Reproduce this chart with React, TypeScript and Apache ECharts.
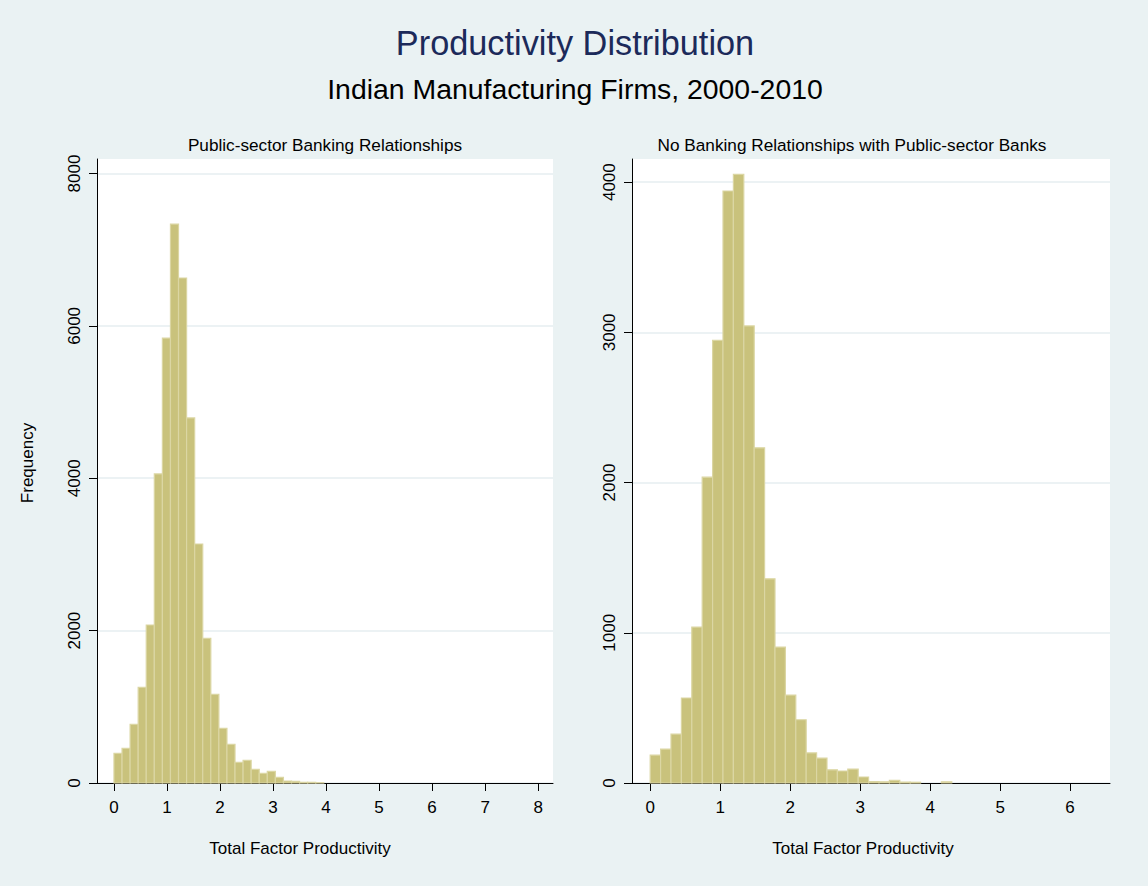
import React, { useEffect, useRef } from "react";
import * as echarts from "echarts";

// Histogram counts (Stata default bins)
const leftBinWidth = 0.1522;
const leftCounts = [
  390, 455, 770, 1256, 2074, 4056, 5840, 7336, 6628, 4791, 3137, 1899, 1164, 718,
  508, 271, 298, 180, 127, 153, 75, 26, 22, 9, 9, 3,
];
const rightBinWidth = 0.1486;
const rightCounts = [
  186, 226, 326, 566, 1038, 2036, 2947, 3941, 4052, 3043, 2231, 1359, 905, 585,
  421, 200, 166, 88, 80, 93, 40, 9, 8, 18, 6, 5, 0, 0, 8,
];
const leftXTicks = [0, 1, 2, 3, 4, 5, 6, 7, 8];
const rightXTicks = [0, 1, 2, 3, 4, 5, 6];
const leftYTicks = [0, 2000, 4000, 6000, 8000];
const rightYTicks = [0, 1000, 2000, 3000, 4000];

const mainTitle = "Productivity Distribution";
const subTitle = "Indian Manufacturing Firms, 2000-2010";
const leftTitle = "Public-sector Banking Relationships";
const rightTitle = "No Banking Relationships with Public-sector Banks";
const xTitle = "Total Factor Productivity";
const yTitle = "Frequency";

const FONT = "'Liberation Sans', Arial, Helvetica, sans-serif";

function toBins(counts: number[], bw: number) {
  return counts.map((c, k) => [k * bw, (k + 1) * bw, c]);
}

export default function App() {
  const ref = useRef<HTMLDivElement>(null);
  useEffect(() => {
    if (!ref.current) return;
    const chart = echarts.init(ref.current, null, { renderer: "svg" });

    const renderItem = (params: any, api: any) => {
      const x0 = api.value(0);
      const x1 = api.value(1);
      const v = api.value(2);
      if (!v) return null;
      const p0 = api.coord([x0, v]);
      const p1 = api.coord([x1, 0]);
      return {
        type: "rect",
        shape: { x: p0[0], y: p0[1], width: p1[0] - p0[0], height: p1[1] - p0[1] },
        style: { fill: "#c9c27c", stroke: "#dbd6a3", lineWidth: 1.2 },
      };
    };

    const xAxisCommon = (ticks: number[], min: number, max: number, gridIndex: number) => ({
      type: "value",
      gridIndex,
      min,
      max,
      axisLine: { show: true, onZero: false, lineStyle: { color: "#000", width: 1 } },
      axisTick: { show: true, length: 8, customValues: ticks, lineStyle: { color: "#000" } },
      axisLabel: {
        customValues: ticks,
        color: "#000",
        fontSize: 17,
        fontFamily: FONT,
        margin: 16,
        formatter: (v: number) => String(v),
      },
      splitLine: { show: false },
    });

    const yAxisCommon = (ticks: number[], max: number, gridIndex: number) => ({
      type: "value",
      gridIndex,
      min: 0,
      max,
      axisLine: { show: true, onZero: false, lineStyle: { color: "#000", width: 1 } },
      axisTick: { show: true, length: 8, customValues: ticks, lineStyle: { color: "#000" } },
      axisLabel: {
        customValues: ticks,
        rotate: 90,
        color: "#000",
        fontSize: 17,
        fontFamily: FONT,
        margin: 14,
        formatter: (v: number) => String(v),
      },
      splitLine: { show: true, lineStyle: { color: "#e6eef0", width: 1.5 } },
    });

    const textStyle = (size: number, color = "#000") => ({
      fill: color,
      fontSize: size,
      fontFamily: FONT,
      textAlign: "center",
      textVerticalAlign: "middle",
    });

    chart.setOption({
      animation: false,
      backgroundColor: "#eaf2f3",
      grid: [
        { left: 97, top: 159, width: 456, height: 624, backgroundColor: "#fff", show: true, borderWidth: 0 },
        { left: 632, top: 159, width: 478, height: 624, backgroundColor: "#fff", show: true, borderWidth: 0 },
      ],
      xAxis: [
        xAxisCommon(leftXTicks, -0.32, 8.28, 0),
        xAxisCommon(rightXTicks, -0.26, 6.57, 1),
      ],
      yAxis: [yAxisCommon(leftYTicks, 8190, 0), yAxisCommon(rightYTicks, 4154, 1)],
      series: [
        {
          type: "custom",
          xAxisIndex: 0,
          yAxisIndex: 0,
          renderItem,
          encode: { x: [0, 1], y: 2 },
          data: toBins(leftCounts, leftBinWidth),
        },
        {
          type: "custom",
          xAxisIndex: 1,
          yAxisIndex: 1,
          renderItem,
          encode: { x: [0, 1], y: 2 },
          data: toBins(rightCounts, rightBinWidth),
        },
      ],
      graphic: [
        { type: "text", x: 575, y: 43, style: { text: mainTitle, ...textStyle(34.3, "#1c2a5a") } },
        { type: "text", x: 575, y: 89, style: { text: subTitle, ...textStyle(28.4) } },
        { type: "text", x: 325, y: 145, style: { text: leftTitle, ...textStyle(17.2) } },
        { type: "text", x: 852, y: 145, style: { text: rightTitle, ...textStyle(17.2) } },
        { type: "text", x: 300, y: 848, style: { text: xTitle, ...textStyle(17) } },
        { type: "text", x: 863, y: 848, style: { text: xTitle, ...textStyle(17) } },
        {
          type: "text",
          x: 27,
          y: 463,
          rotation: Math.PI / 2,
          style: { text: yTitle, ...textStyle(17) },
        },
      ],
    });
    return () => chart.dispose();
  }, []);
  return (
    <div
      ref={ref}
      style={{ position: "fixed", left: 0, top: 0, width: 1148, height: 886 }}
    />
  );
}
